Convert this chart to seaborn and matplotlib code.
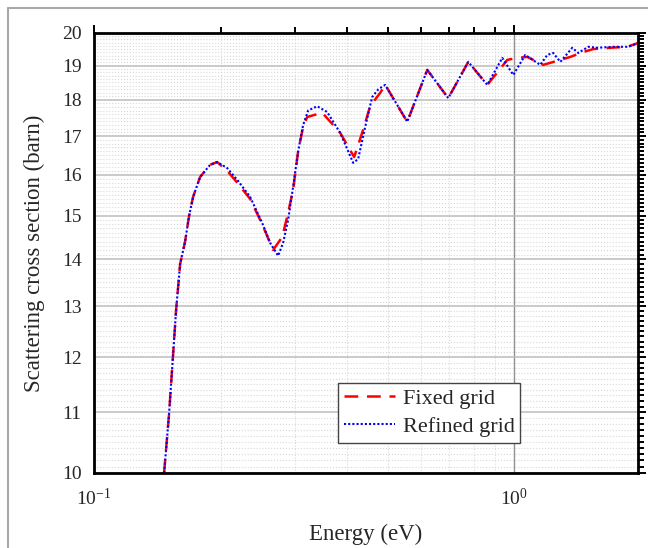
import numpy as np
import matplotlib.pyplot as plt
import matplotlib.ticker as mticker
from matplotlib.lines import Line2D
import seaborn as sns

# values: energy (eV) and cross section (barn)
energy_fixed = [0.1468, 0.1508, 0.1538, 0.1568, 0.1603, 0.1647, 0.1684, 0.1721,
                0.1788, 0.1889, 0.1963, 0.2073, 0.2191, 0.2352, 0.2512, 0.2668,
                0.2803, 0.2881, 0.2977, 0.306, 0.3145, 0.3215, 0.3491, 0.3852,
                0.4159, 0.4346, 0.4542, 0.4797, 0.493, 0.5563, 0.6208, 0.6965,
                0.7773, 0.8626, 0.9624, 1.016, 1.074, 1.172, 1.287, 1.359,
                1.46, 1.542, 1.693, 1.858, 1.974]
sigma_fixed = [10.0, 10.96, 11.91, 12.93, 13.9, 14.4, 15.0, 15.45,
               15.94, 16.25, 16.32, 16.1, 15.8, 15.4, 14.8, 14.21,
               14.5, 14.97, 15.62, 16.6, 17.25, 17.52, 17.64, 17.09,
               16.45, 17.09, 17.83, 18.2, 18.43, 17.39, 18.87, 18.05,
               19.11, 18.43, 19.17, 19.23, 19.26, 19.02, 19.17, 19.26,
               19.41, 19.5, 19.54, 19.57, 19.69]

energy_refined = [0.1468, 0.1508, 0.1538, 0.1568, 0.1603, 0.1647, 0.1684, 0.1721,
                  0.1788, 0.1889, 0.1963, 0.2073, 0.2191, 0.2352, 0.2512, 0.2624,
                  0.2742, 0.2818, 0.2897, 0.2977, 0.306, 0.3145, 0.3232, 0.3396,
                  0.3587, 0.3852, 0.4137, 0.4252, 0.4418, 0.4591, 0.4745, 0.493,
                  0.5563, 0.6208, 0.6965, 0.7773, 0.8626, 0.9364, 0.9945, 1.062,
                  1.153, 1.198, 1.238, 1.287, 1.374, 1.42, 1.50, 1.577,
                  1.721, 1.868, 1.974]
sigma_refined = [10.0, 10.96, 11.91, 12.93, 13.9, 14.4, 15.0, 15.45,
                 15.94, 16.25, 16.32, 16.17, 15.87, 15.45, 14.83, 14.37,
                 14.08, 14.37, 14.9, 15.7, 16.6, 17.3, 17.7, 17.82,
                 17.66, 17.09, 16.3, 16.4, 17.25, 18.08, 18.3, 18.43,
                 17.39, 18.87, 18.05, 19.11, 18.43, 19.23, 18.72, 19.32,
                 19.02, 19.32, 19.38, 19.11, 19.54, 19.38, 19.57, 19.54,
                 19.57, 19.57, 19.69]

y_major = list(range(10, 21))

sns.set_style("white")
plt.rcParams['font.family'] = ['Liberation Serif', 'DejaVu Serif']
plt.rcParams['mathtext.fontset'] = 'stix'

fig = plt.figure(figsize=(6.48, 5.48), dpi=100)
ax = fig.add_axes([0.1451, 0.1369, 0.8395, 0.8029])

sns.lineplot(x=energy_fixed, y=sigma_fixed, ax=ax, color='#ff0000', lw=1.8,
             linestyle=(0, (5.5, 3.5)), label='Fixed grid', sort=False)
sns.lineplot(x=energy_refined, y=sigma_refined, ax=ax, color='#0000ff', lw=1.5,
             linestyle=(0, (1, 1)), label='Refined grid', sort=False)

ax.set_xscale('log')
ax.set_yscale('log')
ax.set_xlim(0.1, 1.97)
ax.set_ylim(10, 20)

ax.yaxis.set_major_locator(mticker.FixedLocator(y_major))
ax.yaxis.set_major_formatter(mticker.FuncFormatter(lambda v, p: f"{v:g}"))
ax.yaxis.set_minor_locator(mticker.FixedLocator(np.arange(10, 20.001, 0.1)))
ax.yaxis.set_minor_formatter(mticker.NullFormatter())
ax.xaxis.set_major_locator(mticker.LogLocator(base=10))
ax.xaxis.set_minor_locator(mticker.LogLocator(base=10, subs=range(2, 10)))
ax.xaxis.set_minor_formatter(mticker.NullFormatter())

ax.tick_params(which='both', direction='out', top=True, right=True,
               width=1.4, color='black', labelsize=14)
ax.tick_params(which='major', length=6, pad=3)
ax.tick_params(which='minor', length=4)
ax.tick_params(axis='x', which='major', pad=5)

ax.grid(which='minor', color='#d8d8d8', lw=0.8, ls=':')
ax.grid(which='major', color='#bcbcbc', lw=1.1, ls='-')
ax.xaxis.grid(which='major', color='#909090', lw=1.0)
ax.set_axisbelow(True)

for s in ax.spines.values():
    s.set_linewidth(2)
    s.set_color('black')

ax.set_xlabel('Energy (eV)', fontsize=16.5, labelpad=10)
ax.set_ylabel('Scattering cross section (barn)', fontsize=16.5, labelpad=12)

ax.legend(loc='upper left', bbox_to_anchor=(0.449, 0.205), fontsize=16,
          frameon=True, fancybox=False, framealpha=1, edgecolor='#444444',
          handlelength=2.3, handletextpad=0.35, labelspacing=0.35,
          borderpad=0.25, borderaxespad=0)

# picture frame on the left and top of the original image
fig.add_artist(Line2D([8 / 648, 8 / 648], [0, 1 - 8 / 548], transform=fig.transFigure,
                      color='#a8a8a8', lw=1.5))
fig.add_artist(Line2D([8 / 648, 1], [1 - 8 / 548, 1 - 8 / 548], transform=fig.transFigure,
                      color='#a8a8a8', lw=1.5))

plt.savefig("out.png", dpi=100)
